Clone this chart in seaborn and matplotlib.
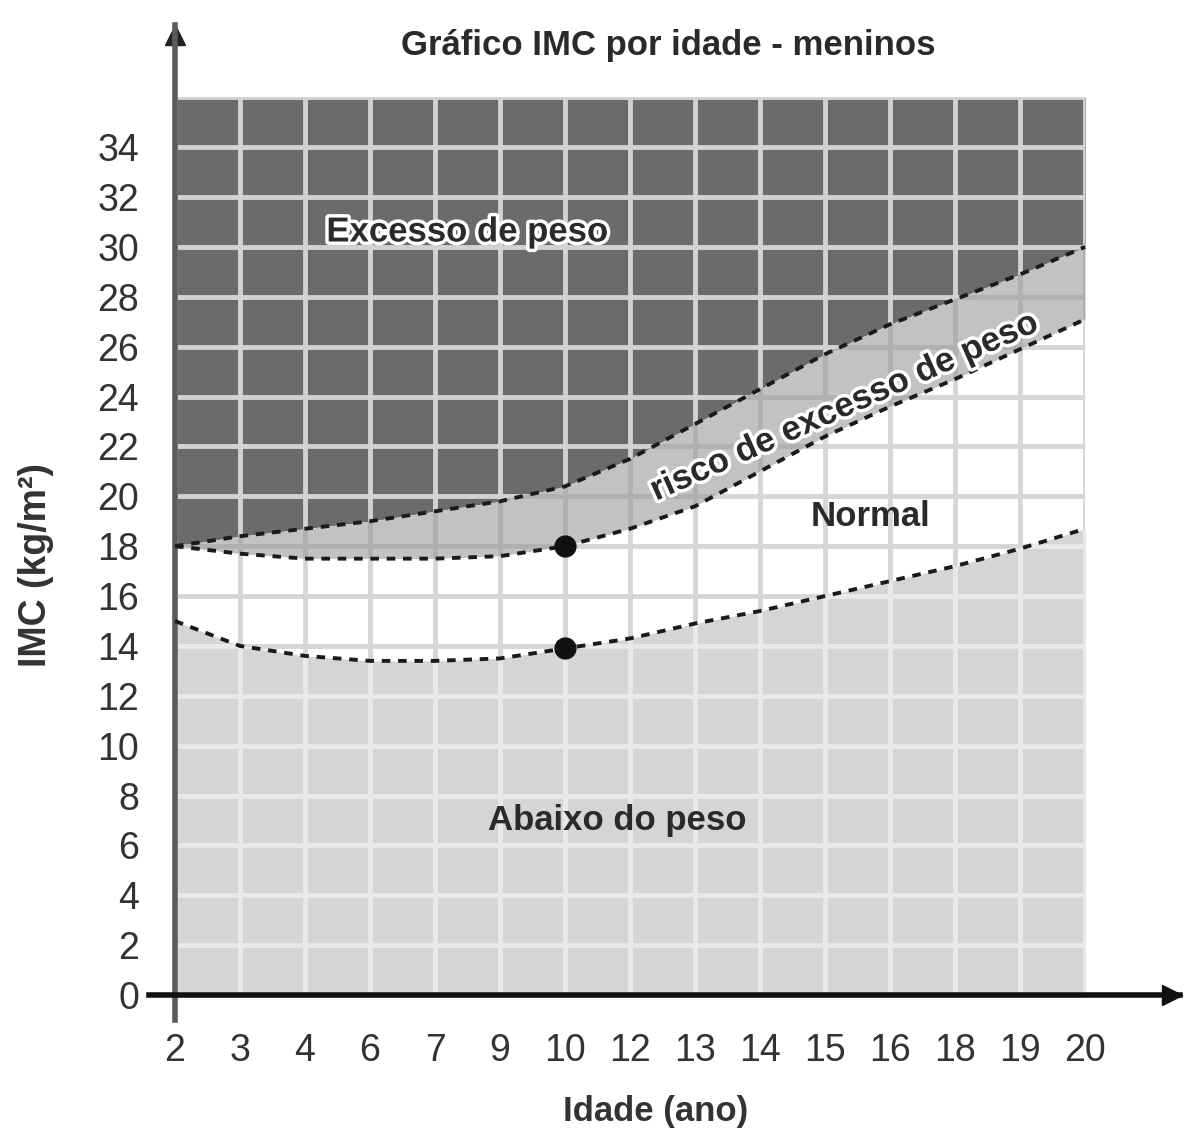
import numpy as np
import matplotlib
matplotlib.use("Agg")
import matplotlib.pyplot as plt
import matplotlib.patheffects as pe
import seaborn as sns

# Dados (IMC por idade - meninos)
idades = ["2", "3", "4", "6", "7", "9", "10", "12", "13", "14", "15", "16", "18", "19", "20"]
limite_excesso = [18.0, 18.4, 18.7, 19.0, 19.4, 19.8, 20.4, 21.5, 22.9, 24.3, 25.7, 26.9, 27.9, 28.9, 30.0]
limite_risco = [18.0, 17.7, 17.5, 17.5, 17.5, 17.6, 18.0, 18.7, 19.6, 21.0, 22.4, 23.6, 24.7, 25.9, 27.1]
limite_abaixo = [15.0, 14.0, 13.6, 13.4, 13.4, 13.5, 13.9, 14.3, 14.9, 15.4, 16.0, 16.6, 17.2, 17.9, 18.7]
idade_destaque = "10"
imc_topo = 36
yticks = list(range(0, 35, 2))

sns.set_theme(style="white")
plt.rcParams['font.family'] = ['Liberation Sans', 'DejaVu Sans']

fig = plt.figure(figsize=(12, 11.43), dpi=100)
ax = fig.add_axes([149 / 1200, 123 / 1143, 1031 / 1200, 995 / 1143])

x = np.arange(len(idades))
xmax = x[-1]
topo = np.full(len(x), imc_topo)
base = np.zeros(len(x))

regioes = [
    (limite_excesso, topo, "#6b6b6d", "#d2d2d2"),
    (limite_risco, limite_excesso, "#c2c2c4", "#b0b0b2"),
    (limite_abaixo, limite_risco, "#ffffff", "#d6d6d6"),
    (base, limite_abaixo, "#d5d5d7", "#e9e9e9"),
]

for inf, sup, cor, cor_grade in regioes:
    poly = ax.fill_between(x, inf, sup, color=cor, lw=0, zorder=1)
    clip = poly.get_paths()[0]
    vl = ax.vlines(x, 0, imc_topo, color=cor_grade, lw=3.5, zorder=2)
    hl = ax.hlines(np.arange(0, imc_topo + 1, 2), 0, xmax, color=cor_grade, lw=3.5, zorder=2)
    vl.set_clip_path(clip, ax.transData)
    hl.set_clip_path(clip, ax.transData)

estilo = dict(color="#1a1a1a", lw=2.8, ls=(0, (2.2, 2.0)), zorder=4)
sns.lineplot(x=x, y=limite_excesso, ax=ax, **estilo)
sns.lineplot(x=x, y=limite_risco, ax=ax, **estilo)
sns.lineplot(x=x, y=limite_abaixo, ax=ax, **estilo)

i = idades.index(idade_destaque)
ax.plot([x[i], x[i]], [limite_risco[i], limite_abaixo[i]], "o", color="#111111", ms=15, ls="none", zorder=5)

contorno = [pe.withStroke(linewidth=5, foreground="white")]
txt = dict(fontsize=25, fontweight="bold", color="#2a2a2a", ha="center", va="center", zorder=6)
ax.text(4.5, 30.6, "Excesso de peso", path_effects=contorno, **txt)
ax.text(10.7, 19.2, "Normal", **txt)
ax.text(6.8, 7.0, "Abaixo do peso", **txt)
ax.text(10.3, 23.6, "risco de excesso de peso", rotation=24, rotation_mode="anchor",
        path_effects=contorno, **txt)

ax.set_xlim(-0.4, 15.46)
ax.set_ylim(-1.0, 38.9)
ax.set_xticks(x)
ax.set_xticklabels(idades)
ax.set_yticks(yticks)
ax.tick_params(axis="both", length=0, labelsize=27, labelcolor="#333333")
ax.tick_params(axis="x", pad=27)
ax.tick_params(axis="y", pad=26)

for s in ["top", "right"]:
    ax.spines[s].set_visible(False)
ax.spines["left"].set_position(("data", 0))
ax.spines["bottom"].set_position(("data", 0))
ax.spines["left"].set_color("#5a5a5a")
ax.spines["left"].set_linewidth(4)
ax.spines["bottom"].set_color("#111111")
ax.spines["bottom"].set_linewidth(4)
ax.plot(0.992, 0, ">", color="#111111", ms=14, transform=ax.get_yaxis_transform(), clip_on=False)
ax.plot(0, 0.99, "^", color="#222222", ms=14, transform=ax.get_xaxis_transform(), clip_on=False)

ax.set_xlabel("Idade (ano)", fontsize=25, fontweight="bold", color="#333333")
ax.xaxis.set_label_coords(0.491, -0.075)
ax.set_ylabel("IMC (kg/m²)", fontsize=27, fontweight="bold", color="#333333")
ax.yaxis.set_label_coords(-0.092, 0.457)

fig.text(668 / 1200, 1 - 45 / 1143, "Gráfico IMC por idade - meninos", fontsize=25,
         fontweight="bold", color="#2a2a2a", ha="center", va="center")

fig.savefig("out.png", dpi=100, facecolor="white")
